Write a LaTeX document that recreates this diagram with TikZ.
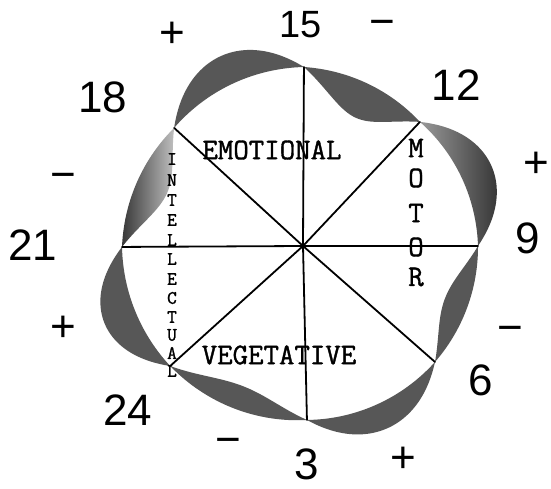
\documentclass[tikz,border=0pt]{standalone}
\usepackage{fontspec}
\newfontfamily\handfont{Liberation Sans}
\newfontfamily\twfont[FakeBold=1.2]{Latin Modern Mono}
% lobe between angle #1 (radius #2) and angle #3 (radius #4), signed amplitude #5, path options #6
\newcommand\mylobe[6]{%
  \path[#6] plot[domain=#1:#3,samples=60]
    ({303+(#2+(#4-#2)*(\x-#1)/(#3-#1)+(#5)*sin(180*(\x-#1)/(#3-#1)))*cos(\x)},
     {246-(#2+(#4-#2)*(\x-#1)/(#3-#1)+(#5)*sin(180*(\x-#1)/(#3-#1)))*sin(\x)})
    -- plot[domain=#3:#1,samples=60]
    ({303+(#2+(#4-#2)*(\x-#1)/(#3-#1))*cos(\x)},
     {246-(#2+(#4-#2)*(\x-#1)/(#3-#1))*sin(\x)}) -- cycle;}
\begin{document}
\begin{tikzpicture}[x=1pt,y=-1pt,
  spoke/.style={line width=1.8pt,line cap=round},
  lobefill/.style={fill=black!66},
  typew/.style={font=\twfont\fontsize{30}{30}\selectfont,inner sep=0pt},
  vlet/.style={font=\twfont\fontsize{19}{19}\selectfont,inner sep=0pt},
  hand/.style={font=\handfont\fontsize{44}{44}\selectfont,inner sep=0pt},
  sign/.style={font=\handfont\fontsize{44}{44}\selectfont,inner sep=0pt}]
\useasboundingbox (0,0) rectangle (551,489);
\fill[white] (0,0) rectangle (551,489);

% shaded lobes of the wavy outline
\mylobe{0}{175}{46.7}{170.5}{32}{left color=black!40,right color=black!78}
\mylobe{46.7}{170.5}{89.7}{179}{-36}{lobefill}
\mylobe{89.7}{179}{137.5}{174.8}{30}{lobefill}
\mylobe{137.5}{174.8}{180.3}{181}{-32}{left color=black!78,right color=black!25}
\mylobe{180.3}{181}{222.1}{179}{33}{lobefill}
\mylobe{222.1}{179}{271.3}{174}{-24}{lobefill}
\mylobe{271.3}{174}{318.7}{175.7}{26}{lobefill}
\mylobe{318.7}{175.7}{360}{175}{-24}{lobefill}

% crossing points
\coordinate (C) at (303,246);
\coordinate (p0) at ({303+175*cos(0)},{246-175*sin(0)});
\coordinate (p1) at ({303+170.5*cos(46.7)},{246-170.5*sin(46.7)});
\coordinate (p2) at ({303+179*cos(89.7)},{246-179*sin(89.7)});
\coordinate (p3) at ({303+174.8*cos(137.5)},{246-174.8*sin(137.5)});
\coordinate (p4) at ({303+181*cos(180.3)},{246-181*sin(180.3)});
\coordinate (p5) at ({303+179*cos(222.1)},{246-179*sin(222.1)});
\coordinate (p6) at ({303+174*cos(271.3)},{246-174*sin(271.3)});
\coordinate (p7) at ({303+175.7*cos(318.7)},{246-175.7*sin(318.7)});

% sector labels
\node[typew] (emo) at (272,150) {EMOTIONAL};
\node[typew] (veg) at (279,355) {VEGETATIVE};
\foreach \l/\y [count=\i] in {M/148,O/178,T/213,O/247,R/277}
  \node[typew] (mot\i) at (416,\y) {\l};
\foreach \l/\y [count=\i] in {I/159,N/180,T/200,E/220,L/240,L/259,E/279,C/298,T/317,U/335,A/353,L/371}
  \node[vlet] (int\i) at (172,\y) {\l};

% spokes
\foreach \i in {0,...,7}
  \draw[spoke] (C) -- (p\i);

% hour numbers
\node[hand,font=\handfont\fontsize{38}{38}\selectfont] (n15) at (301,25) {15};
\node[hand] (n12) at (456,85) {12};
\node[hand] (n9) at (528,238) {9};
\node[hand] (n6) at (481,380) {6};
\node[hand] (n3) at (307,464) {3};
\node[hand] (n24) at (128,410) {24};
\node[hand] (n21) at (33,245) {21};
\node[hand] (n18) at (103,97) {18};

% signs
\node[sign] (s1) at (172,35) {+};
\node[sign] (s2) at (382,28) {−};
\node[sign] (s3) at (536,165) {+};
\node[sign] (s4) at (510,334) {−};
\node[sign] (s5) at (403,460) {+};
\node[sign] (s6) at (228,446) {−};
\node[sign] (s7) at (63,329) {+};
\node[sign] (s8) at (63,181) {−};
\end{tikzpicture}
\end{document}
